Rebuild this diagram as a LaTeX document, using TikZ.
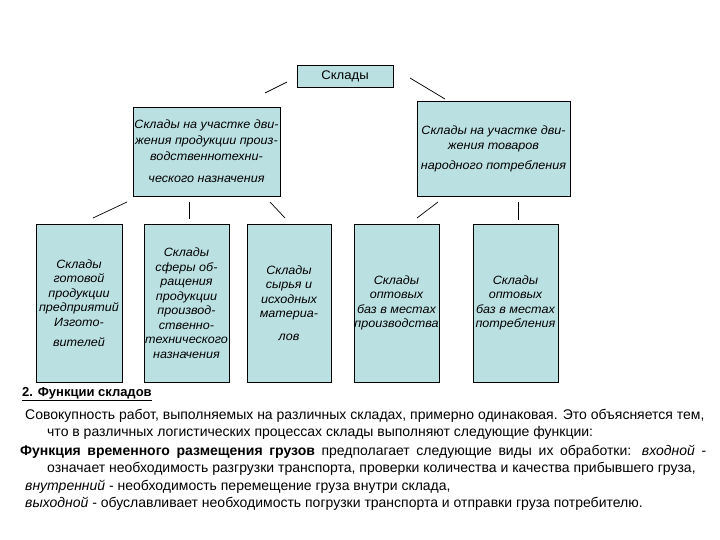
\documentclass[tikz,border=0pt]{standalone}
\usepackage{fontspec}
\setmainfont{Liberation Sans}
\newfontfamily\boxfont[FakeStretch=1.05]{Liberation Sans}
\definecolor{boxfill}{RGB}{187,224,226}
\begin{document}
\begin{tikzpicture}[x=1pt,y=-1pt,
  box/.style={draw=black, line width=0.8pt, fill=boxfill, inner sep=0pt, align=center,
    font=\boxfont\itshape\fontsize{12}{14.5}\selectfont},
  conn/.style={draw=black, line width=0.7pt},
  body/.style={anchor=base west, inner sep=0pt, font=\fontsize{14}{15}\selectfont}]
\fill[white] (0,0) rectangle (720,540);
\useasboundingbox (0,0) rectangle (720,540);

\node[box, minimum width=96pt, minimum height=22pt, font=\boxfont\fontsize{12.5}{14}\selectfont] (top) at (345,76) {Склады};
\node[box, minimum width=147pt, minimum height=89pt] (midL) at (206.5,151.5)
  {Склады на участке дви-\\[1.5pt]жения продукции произ-\\[1.5pt]водственнотехни-\\[7.5pt]ческого назначения};
\node[box, minimum width=153pt, minimum height=95pt] (midR) at (493.5,148.5)
  {Склады на участке дви-\\[0.5pt]жения товаров\hspace*{18pt}\\[5.5pt]народного потребления};

\node[box, minimum width=86pt, minimum height=158pt] (b1) at (79,303)
  {Склады\\готовой\\продукции\\предприятий\\Изгото-\\[6pt]вителей};
\node[box, minimum width=85pt, minimum height=158pt] (b2) at (186.5,303)
  {Склады\\сферы об-\\ращения\\продукции\\производ-\\ственно-\\технического\\назначения};
\node[box, minimum width=84pt, minimum height=158pt] (b3) at (289,303)
  {Склады\\сырья и\\исходных\\материа-\\[8pt]лов};
\node[box, minimum width=85pt, minimum height=158pt] (b4) at (396.5,303)
  {Склады\\оптовых\\баз в местах\\производства};
\node[box, minimum width=85pt, minimum height=158pt] (b5) at (515.5,303)
  {Склады\\оптовых\\баз в местах\\потребления};

\coordinate (c1a) at (265,93);  \coordinate (c1b) at (287,82);
\coordinate (c2a) at (410,78);  \coordinate (c2b) at (445,99);
\coordinate (c3a) at (93,218);  \coordinate (c3b) at (127,202);
\coordinate (c4a) at (189,202); \coordinate (c4b) at (189,219);
\coordinate (c5a) at (270,202); \coordinate (c5b) at (285,218);
\coordinate (c6a) at (417,218); \coordinate (c6b) at (438,202);
\coordinate (c7a) at (518,202); \coordinate (c7b) at (518,220);
\draw[conn] (c1a) -- (c1b);
\draw[conn] (c2a) -- (c2b);
\draw[conn] (c3a) -- (c3b);
\draw[conn] (c4a) -- (c4b);
\draw[conn] (c5a) -- (c5b);
\draw[conn] (c6a) -- (c6b);
\draw[conn] (c7a) -- (c7b);

\node[body, font=\bfseries\fontsize{13}{15}\selectfont] (h) at (22,396) {\underline{2. Функции складов}};
\node[body] (t1) at (25,419) {Совокупность работ, выполняемых на различных складах, примерно одинаковая. Это объясняется тем,};
\node[body] (t2) at (47,436) {что в различных логистических процессах склады выполняют следующие функции:};
\node[body] (t3) at (20,455) {\hbox to 686pt{\textbf{Функция временного размещения грузов} предполагает следующие виды их обработки: \textit{входной} -}};
\node[body] (t4) at (47,472) {означает необходимость разгрузки транспорта, проверки количества и качества прибывшего груза,};
\node[body] (t5) at (25,490) {\textit{внутренний} - необходимость перемещение груза внутри склада,};
\node[body] (t6) at (25,507) {\textit{выходной} - обуславливает необходимость погрузки транспорта и отправки груза потребителю.};
\end{tikzpicture}
\end{document}
